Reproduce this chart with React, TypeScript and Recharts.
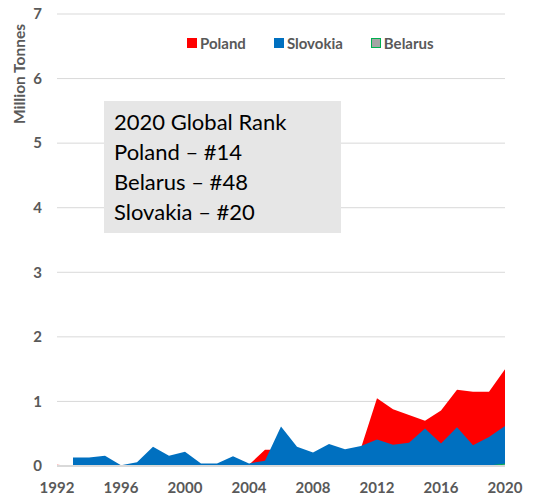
import React from 'react';
import { AreaChart, Area, XAxis, YAxis, CartesianGrid, ReferenceLine } from 'recharts';

const years = [1992, 1993, 1994, 1995, 1996, 1997, 1998, 1999, 2000, 2001, 2002, 2003, 2004, 2005, 2006, 2007, 2008, 2009, 2010, 2011, 2012, 2013, 2014, 2015, 2016, 2017, 2018, 2019, 2020];
const poland = [0.02, 0, 0, 0, 0, 0, 0, 0, 0, 0, 0, 0, 0.02, 0.25, 0.25, 0.2, 0.15, 0.2, 0.2, 0.28, 1.05, 0.88, 0.79, 0.7, 0.86, 1.18, 1.15, 1.15, 1.5];
const slovakia = [null, 0.13, 0.13, 0.16, 0.01, 0.06, 0.3, 0.16, 0.22, 0.04, 0.04, 0.15, 0.04, 0.08, 0.61, 0.3, 0.21, 0.34, 0.26, 0.31, 0.41, 0.33, 0.36, 0.58, 0.35, 0.6, 0.32, 0.45, 0.62];
const belarus = [0, 0, 0, 0, 0, 0, 0.01, 0, 0, 0, 0, 0, 0, 0, 0, 0, 0, 0, 0, 0, 0, 0, 0, 0, 0, 0, 0, 0, 0.03];
const xTicks = [1992, 1996, 2000, 2004, 2008, 2012, 2016, 2020];
const yTicks = [0, 1, 2, 3, 4, 5, 6, 7];
const rankLines = ['2020 Global Rank', 'Poland \u2013 #14', 'Belarus \u2013 #48', 'Slovakia \u2013 #20'];

const data = years.map((y, i) => ({ year: y, Poland: poland[i], Slovokia: slovakia[i], Belarus: belarus[i] }));

const FONT = 'Lato, "Open Sans", sans-serif';
const GRAY = '#595959';

const legendItems = [
  { name: 'Poland', fill: '#ff0000', stroke: '#ff0000' },
  { name: 'Slovokia', fill: '#0070c0', stroke: '#0070c0' },
  { name: 'Belarus', fill: '#a5a5a5', stroke: '#00b050' },
];

export default function App() {
  return (
    <div style={{ position: 'absolute', left: 0, top: 0, width: 543, height: 497, background: '#fff' }}>
      <AreaChart width={543} height={497} data={data} margin={{ top: 14, right: 38, bottom: 0, left: 0 }}>
        <CartesianGrid horizontal vertical={false} stroke="#d9d9d9" strokeWidth={1} />
        <XAxis
          dataKey="year"
          type="number"
          domain={[1992, 2020]}
          ticks={xTicks}
          height={31}
          axisLine={{ stroke: '#d9d9d9', strokeWidth: 2 }}
          tickLine={false}
          tickSize={0}
          tickMargin={16}
          tick={{ fill: GRAY, fontSize: 15, fontWeight: 700, fontFamily: FONT }}
          interval={0}
        />
        <YAxis
          type="number"
          domain={[0, 7]}
          ticks={yTicks}
          width={57}
          axisLine={false}
          tickLine={false}
          tickSize={0}
          tickMargin={15}
          tick={{ fill: GRAY, fontSize: 15, fontWeight: 700, fontFamily: FONT }}
          label={{
            content: () => (
              <text x={25} y={74} transform="rotate(-90, 25, 74)" textAnchor="middle" fill={GRAY} fontSize={15.5} fontWeight={700} fontFamily={FONT}>
                Million Tonnes
              </text>
            ),
          }}
        />
        <Area type="linear" dataKey="Poland" fill="#ff0000" stroke="none" fillOpacity={1} isAnimationActive={false} />
        <Area type="linear" dataKey="Slovokia" fill="#0070c0" stroke="none" fillOpacity={1} isAnimationActive={false} />
        <Area type="linear" dataKey="Belarus" fill="#a5a5a5" stroke="#00b050" strokeWidth={1} fillOpacity={1} isAnimationActive={false} />
        <ReferenceLine y={0} stroke="#d9d9d9" strokeWidth={2} />
      </AreaChart>
      <div style={{ position: 'absolute', left: 187, top: 34, display: 'flex', fontFamily: FONT, fontWeight: 700, fontSize: 15, color: GRAY, lineHeight: '18px' }}>
        {legendItems.map((it, i) => (
          <div key={it.name} style={{ display: 'flex', alignItems: 'center', marginRight: i < 2 ? 28 : 0 }}>
            <span style={{ display: 'inline-block', width: 8, height: 8, background: it.fill, border: `1px solid ${it.stroke}`, marginRight: 3 }} />
            <span>{it.name}</span>
          </div>
        ))}
      </div>
      <div
        style={{
          position: 'absolute',
          left: 104,
          top: 101,
          width: 237,
          height: 132,
          background: '#e6e6e6',
          boxSizing: 'border-box',
          padding: '6px 0 0 10px',
          fontFamily: FONT,
          fontSize: 22,
          lineHeight: '30px',
          color: '#000',
        }}
      >
        {rankLines.map((l) => (
          <div key={l}>{l}</div>
        ))}
      </div>
    </div>
  );
}
